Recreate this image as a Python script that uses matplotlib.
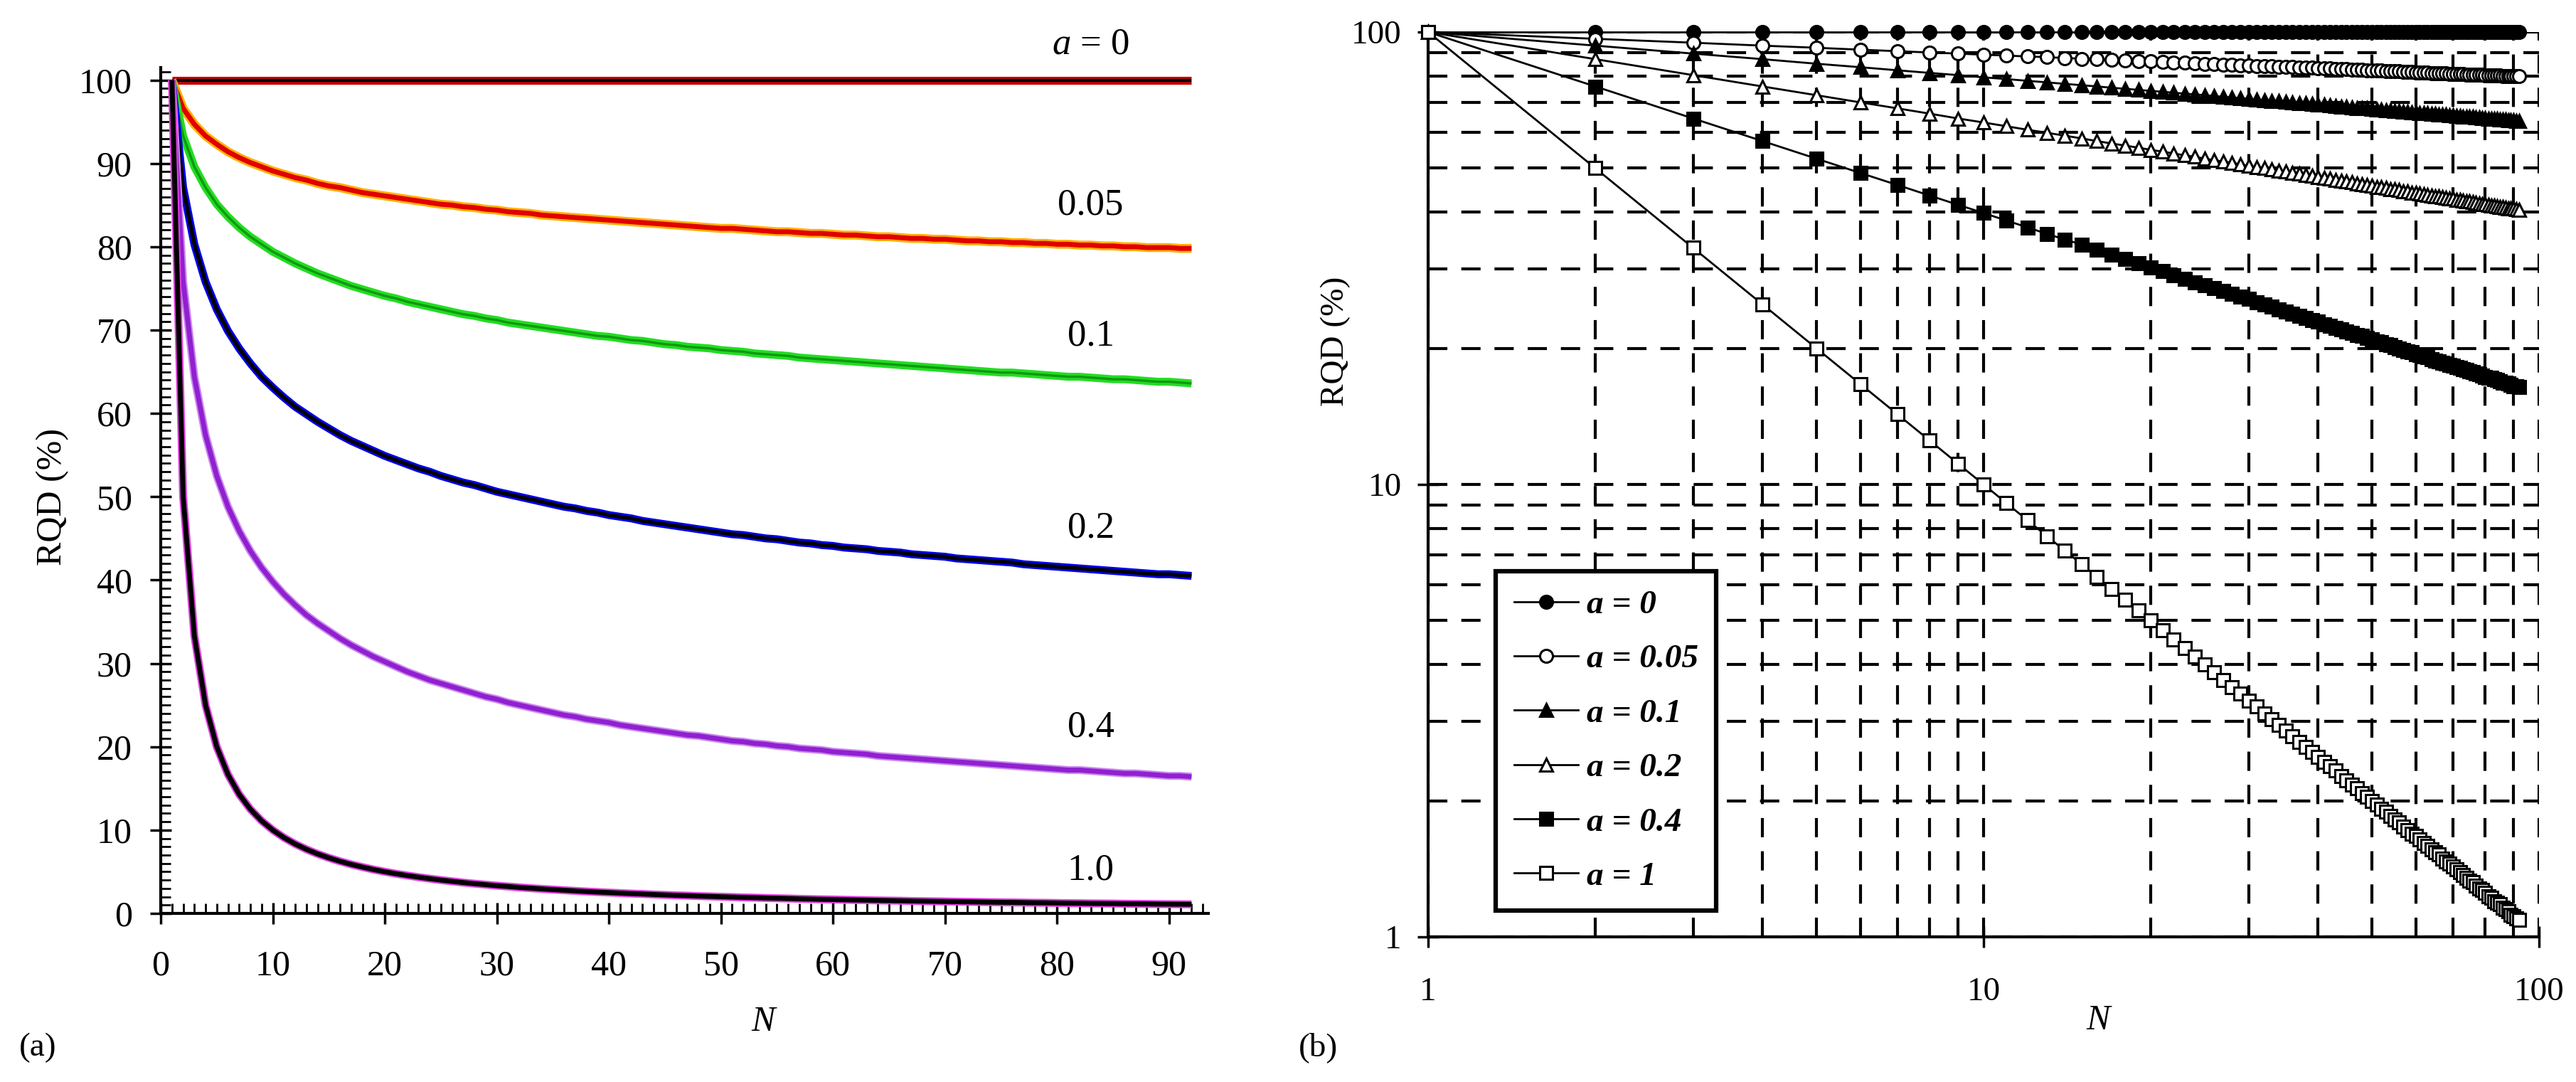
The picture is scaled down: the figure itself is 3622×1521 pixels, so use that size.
import matplotlib
matplotlib.use('Agg')
import matplotlib.pyplot as plt
from matplotlib.ticker import MultipleLocator, FixedLocator, NullFormatter

plt.rcParams['font.family'] = ['Liberation Serif', 'DejaVu Serif']
plt.rcParams['mathtext.fontset'] = 'custom'
plt.rcParams['mathtext.rm'] = 'Liberation Serif'
plt.rcParams['mathtext.it'] = 'Liberation Serif:italic'

# ---------------- data (RQD in %, N = 1 ... 92) ----------------
N = list(range(1, 93))

rqd_a0 = [100.0, 100.0, 100.0, 100.0, 100.0, 100.0, 100.0, 100.0, 100.0, 100.0,
          100.0, 100.0, 100.0, 100.0, 100.0, 100.0, 100.0, 100.0, 100.0, 100.0,
          100.0, 100.0, 100.0, 100.0, 100.0, 100.0, 100.0, 100.0, 100.0, 100.0,
          100.0, 100.0, 100.0, 100.0, 100.0, 100.0, 100.0, 100.0, 100.0, 100.0,
          100.0, 100.0, 100.0, 100.0, 100.0, 100.0, 100.0, 100.0, 100.0, 100.0,
          100.0, 100.0, 100.0, 100.0, 100.0, 100.0, 100.0, 100.0, 100.0, 100.0,
          100.0, 100.0, 100.0, 100.0, 100.0, 100.0, 100.0, 100.0, 100.0, 100.0,
          100.0, 100.0, 100.0, 100.0, 100.0, 100.0, 100.0, 100.0, 100.0, 100.0,
          100.0, 100.0, 100.0, 100.0, 100.0, 100.0, 100.0, 100.0, 100.0, 100.0,
          100.0, 100.0]

rqd_a005 = [100.0, 96.6, 94.7, 93.3, 92.3, 91.4, 90.7, 90.1, 89.6, 89.1,
            88.7, 88.3, 88.0, 87.6, 87.3, 87.1, 86.8, 86.5, 86.3, 86.1,
            85.9, 85.7, 85.5, 85.3, 85.1, 85.0, 84.8, 84.7, 84.5, 84.4,
            84.2, 84.1, 84.0, 83.8, 83.7, 83.6, 83.5, 83.4, 83.3, 83.2,
            83.1, 83.0, 82.9, 82.8, 82.7, 82.6, 82.5, 82.4, 82.3, 82.2,
            82.2, 82.1, 82.0, 81.9, 81.8, 81.8, 81.7, 81.6, 81.6, 81.5,
            81.4, 81.4, 81.3, 81.2, 81.2, 81.1, 81.0, 81.0, 80.9, 80.9,
            80.8, 80.7, 80.7, 80.6, 80.6, 80.5, 80.5, 80.4, 80.4, 80.3,
            80.3, 80.2, 80.2, 80.1, 80.1, 80.0, 80.0, 79.9, 79.9, 79.9,
            79.8, 79.8]

rqd_a01 = [100.0, 93.3, 89.6, 87.1, 85.1, 83.6, 82.3, 81.2, 80.3, 79.4,
           78.7, 78.0, 77.4, 76.8, 76.3, 75.8, 75.3, 74.9, 74.5, 74.1,
           73.8, 73.4, 73.1, 72.8, 72.5, 72.2, 71.9, 71.7, 71.4, 71.2,
           70.9, 70.7, 70.5, 70.3, 70.1, 69.9, 69.7, 69.5, 69.3, 69.2,
           69.0, 68.8, 68.7, 68.5, 68.3, 68.2, 68.0, 67.9, 67.8, 67.6,
           67.5, 67.4, 67.2, 67.1, 67.0, 66.9, 66.7, 66.6, 66.5, 66.4,
           66.3, 66.2, 66.1, 66.0, 65.9, 65.8, 65.7, 65.6, 65.5, 65.4,
           65.3, 65.2, 65.1, 65.0, 64.9, 64.9, 64.8, 64.7, 64.6, 64.5,
           64.4, 64.4, 64.3, 64.2, 64.1, 64.1, 64.0, 63.9, 63.8, 63.8,
           63.7, 63.6]

rqd_a02 = [100.0, 87.1, 80.3, 75.8, 72.5, 69.9, 67.8, 66.0, 64.4, 63.1,
           61.9, 60.8, 59.9, 59.0, 58.2, 57.4, 56.7, 56.1, 55.5, 54.9,
           54.4, 53.9, 53.4, 53.0, 52.5, 52.1, 51.7, 51.4, 51.0, 50.6,
           50.3, 50.0, 49.7, 49.4, 49.1, 48.8, 48.6, 48.3, 48.1, 47.8,
           47.6, 47.4, 47.1, 46.9, 46.7, 46.5, 46.3, 46.1, 45.9, 45.7,
           45.5, 45.4, 45.2, 45.0, 44.9, 44.7, 44.5, 44.4, 44.2, 44.1,
           43.9, 43.8, 43.7, 43.5, 43.4, 43.3, 43.1, 43.0, 42.9, 42.8,
           42.6, 42.5, 42.4, 42.3, 42.2, 42.1, 41.9, 41.8, 41.7, 41.6,
           41.5, 41.4, 41.3, 41.2, 41.1, 41.0, 40.9, 40.8, 40.7, 40.7,
           40.6, 40.5]

rqd_a04 = [100.0, 75.8, 64.4, 57.4, 52.5, 48.8, 45.9, 43.5, 41.5, 39.8,
           38.3, 37.0, 35.8, 34.8, 33.9, 33.0, 32.2, 31.5, 30.8, 30.2,
           29.6, 29.0, 28.5, 28.0, 27.6, 27.2, 26.8, 26.4, 26.0, 25.7,
           25.3, 25.0, 24.7, 24.4, 24.1, 23.8, 23.6, 23.3, 23.1, 22.9,
           22.6, 22.4, 22.2, 22.0, 21.8, 21.6, 21.4, 21.3, 21.1, 20.9,
           20.7, 20.6, 20.4, 20.3, 20.1, 20.0, 19.8, 19.7, 19.6, 19.4,
           19.3, 19.2, 19.1, 18.9, 18.8, 18.7, 18.6, 18.5, 18.4, 18.3,
           18.2, 18.1, 18.0, 17.9, 17.8, 17.7, 17.6, 17.5, 17.4, 17.3,
           17.2, 17.2, 17.1, 17.0, 16.9, 16.8, 16.8, 16.7, 16.6, 16.5,
           16.5, 16.4]

rqd_a1 = [100.00, 50.00, 33.33, 25.00, 20.00, 16.67, 14.29, 12.50, 11.11, 10.00,
          9.09, 8.33, 7.69, 7.14, 6.67, 6.25, 5.88, 5.56, 5.26, 5.00,
          4.76, 4.55, 4.35, 4.17, 4.00, 3.85, 3.70, 3.57, 3.45, 3.33,
          3.23, 3.12, 3.03, 2.94, 2.86, 2.78, 2.70, 2.63, 2.56, 2.50,
          2.44, 2.38, 2.33, 2.27, 2.22, 2.17, 2.13, 2.08, 2.04, 2.00,
          1.96, 1.92, 1.89, 1.85, 1.82, 1.79, 1.75, 1.72, 1.69, 1.67,
          1.64, 1.61, 1.59, 1.56, 1.54, 1.52, 1.49, 1.47, 1.45, 1.43,
          1.41, 1.39, 1.37, 1.35, 1.33, 1.32, 1.30, 1.28, 1.27, 1.25,
          1.23, 1.22, 1.20, 1.19, 1.18, 1.16, 1.15, 1.14, 1.12, 1.11,
          1.10, 1.09]

series = [rqd_a0, rqd_a005, rqd_a01, rqd_a02, rqd_a04, rqd_a1]

curve_labels = [r'$a$ = 0', '0.05', '0.1', '0.2', '0.4', '1.0']
curve_label_y = [104.3, 85.0, 69.3, 46.2, 22.3, 5.2]
legend_labels = ['a = 0', 'a = 0.05', 'a = 0.1', 'a = 0.2', 'a = 0.4', 'a = 1']
x_ticks_lin = [0, 10, 20, 30, 40, 50, 60, 70, 80, 90]
y_ticks_lin = [0, 10, 20, 30, 40, 50, 60, 70, 80, 90, 100]
log_ticks = [1, 10, 100]
log_tick_labels = ['1', '10', '100']

# ---------------- figure ----------------
W, H = 3622, 1521
fig = plt.figure(figsize=(W / 100, H / 100), dpi=100)

# ---------- left panel (a) ----------
ax1 = fig.add_axes([226 / W, 1 - 1284 / H, (1699 - 226) / W, (1284 - 95) / H])
styles = [('#C00000', 8, 'black', 3),
          ('#FFB000', 9, '#E00000', 5),
          ('#22DD22', 8, '#119911', 2.5),
          ('#0000EE', 8, 'black', 4),
          ('#CC88EE', 8, '#9020D0', 5),
          ('#E040E0', 8, 'black', 5)]
for s, (c1, w1, c2, w2) in zip(series, styles):
    ax1.plot(N, s, color=c1, lw=w1, solid_capstyle='butt')
    ax1.plot(N, s, color=c2, lw=w2, solid_capstyle='butt')
ax1.set_xlim(0, 93.5)
ax1.set_ylim(0, 101.5)
ax1.set_xticks(x_ticks_lin)
ax1.set_yticks(y_ticks_lin)
ax1.xaxis.set_minor_locator(MultipleLocator(1))
ax1.yaxis.set_minor_locator(MultipleLocator(1))
for sp in ['top', 'right']:
    ax1.spines[sp].set_visible(False)
for sp in ['left', 'bottom']:
    ax1.spines[sp].set_linewidth(3)
ax1.tick_params(which='major', direction='inout', length=22, width=2.5, labelsize=36)
ax1.tick_params(axis='x', which='major', pad=26)
ax1.tick_params(axis='y', which='major', pad=18)
ax1.tick_params(which='minor', direction='in', length=10, width=2)

for t, y in zip(curve_labels, curve_label_y):
    ax1.text(83, y, t, fontsize=38, ha='center', va='center')

fig.text(74 / W, 1 - 698 / H, 'RQD (%)', rotation=90, fontsize=36, ha='center', va='center')
fig.text(1073 / W, 1 - 1437 / H, 'N', fontsize=36, style='italic', ha='center', va='center')
fig.text(53 / W, 1 - 1473 / H, '(a)', fontsize=34, ha='center', va='center')

# ---------- right panel (b) ----------
ax2 = fig.add_axes([2008 / W, 1 - 1317 / H, (3570 - 2008) / W, (1317 - 45) / H])
ax2.set_xscale('log')
ax2.set_yscale('log')
markers = [('o', 'black'), ('o', 'white'), ('^', 'black'),
           ('^', 'white'), ('s', 'black'), ('s', 'white')]
for s, (m, fc), lab in zip(series, markers, legend_labels):
    ax2.plot(N, s, color='black', lw=2, marker=m, markersize=13, markerfacecolor=fc,
             markeredgecolor='black', markeredgewidth=2.2, label=lab,
             clip_on=False, zorder=3)
ax2.set_xlim(1, 100)
ax2.set_ylim(1, 100)
ax2.set_xticks(log_ticks, log_tick_labels)
ax2.set_yticks(log_ticks, log_tick_labels)
minor = [m * d for d in (1, 10) for m in range(2, 10)]
ax2.xaxis.set_minor_locator(FixedLocator(minor))
ax2.yaxis.set_minor_locator(FixedLocator(minor))
ax2.xaxis.set_minor_formatter(NullFormatter())
ax2.yaxis.set_minor_formatter(NullFormatter())
ax2.set_axisbelow(True)
ax2.grid(True, which='both', color='black', lw=3.0, linestyle=(0, (6.5, 4.7)))
for sp in ['top', 'right']:
    ax2.spines[sp].set_visible(False)
for sp in ['left', 'bottom']:
    ax2.spines[sp].set_linewidth(3)
ax2.tick_params(which='major', direction='inout', length=22, width=2.5, labelsize=34)
ax2.tick_params(axis='x', which='major', pad=30)
ax2.tick_params(axis='y', which='major', pad=16)
ax2.tick_params(which='minor', direction='in', length=9, width=2)

leg = ax2.legend(loc='upper left', bbox_to_anchor=(0.061, 0.040, 0.198, 0.364), mode='expand',
                 prop={'style': 'italic', 'weight': 'bold', 'size': 34}, frameon=True,
                 fancybox=False, edgecolor='black', framealpha=1, labelspacing=0.705,
                 handlelength=1.9, handletextpad=0.25, borderpad=0.55, borderaxespad=0)
leg.get_frame().set_linewidth(4.5)

fig.text(1878 / W, 1 - 480 / H, 'RQD (%)', rotation=90, fontsize=34, ha='center', va='center')
fig.text(2950 / W, 1 - 1435 / H, 'N', fontsize=36, style='italic', ha='center', va='center')
fig.text(1853 / W, 1 - 1473 / H, '(b)', fontsize=34, ha='center', va='center')

fig.savefig('out.png', dpi=100)
